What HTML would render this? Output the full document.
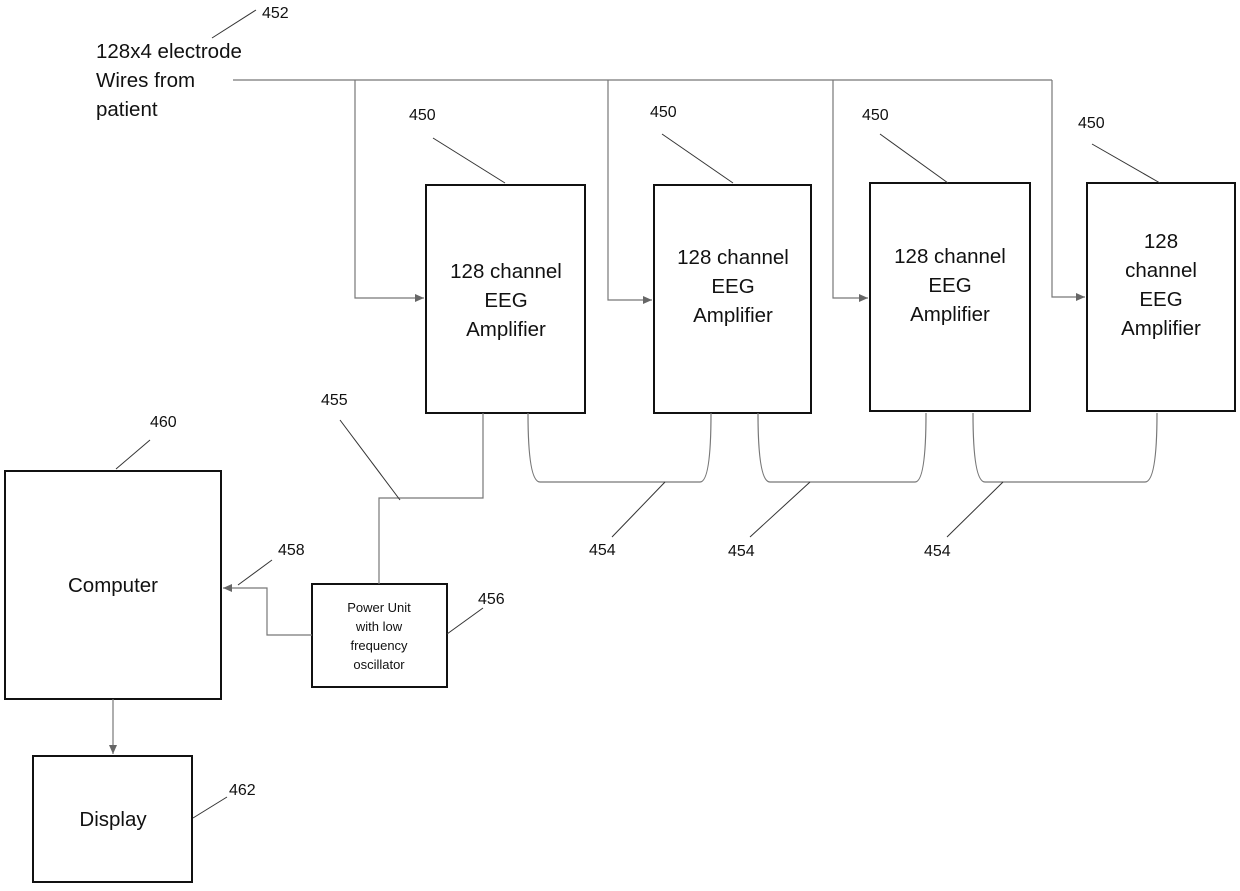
<!DOCTYPE html>
<html><head><style>
body{margin:0;background:#fff;}
svg text{font-family:"Liberation Sans",sans-serif;fill:#111;}
</style></head><body>
<svg width="1240" height="886" viewBox="0 0 1240 886" xmlns="http://www.w3.org/2000/svg">
<defs><marker id="a" markerWidth="10" markerHeight="10" refX="9" refY="5" orient="auto" markerUnits="userSpaceOnUse"><path d="M0,1 L9,5 L0,9 Z" fill="#666"/></marker></defs>
<g fill="none" stroke="#111" stroke-width="2">
<rect x="426" y="185" width="159" height="228"/>
<rect x="654" y="185" width="157" height="228"/>
<rect x="870" y="183" width="160" height="228"/>
<rect x="1087" y="183" width="148" height="228"/>
<rect x="5" y="471" width="216" height="228"/>
<rect x="33" y="756" width="159" height="126"/>
<rect x="312" y="584" width="135" height="103"/>
</g>
<g fill="none" stroke="#777" stroke-width="1.2">
<path d="M233,80 H1052"/>
<path d="M355,80 V298 H424" marker-end="url(#a)"/>
<path d="M608,80 V300 H652" marker-end="url(#a)"/>
<path d="M833,80 V298 H868" marker-end="url(#a)"/>
<path d="M1052,80 V297 H1085" marker-end="url(#a)"/>
<path d="M483,413 V498 H379 V584"/>
<path d="M312,635 H267 V588 H223" marker-end="url(#a)"/>
<path d="M113,699 V754" marker-end="url(#a)"/>
<path d="M528,413 Q528,482 540,482 H700 Q711,482 711,413"/>
<path d="M758,413 Q758,482 770,482 H915 Q926,482 926,413"/>
<path d="M973,413 Q973,482 985,482 H1145 Q1157,482 1157,413"/>
</g>
<g fill="none" stroke="#333" stroke-width="1">
<path d="M212,38 L256,10"/>
<path d="M433,138 L505,183"/>
<path d="M662,134 L733,183"/>
<path d="M880,134 L948,183"/>
<path d="M1092,144 L1160,183"/>
<path d="M340,420 L400,500"/>
<path d="M612,537 L665,482"/>
<path d="M750,537 L810,482"/>
<path d="M947,537 L1003,482"/>
<path d="M447,634 L483,608"/>
<path d="M238,585 L272,560"/>
<path d="M116,469 L150,440"/>
<path d="M193,818 L227,797"/>
</g>
<g font-size="16">
<text x="262" y="18">452</text>
<text x="409" y="120">450</text>
<text x="650" y="117">450</text>
<text x="862" y="120">450</text>
<text x="1078" y="128">450</text>
<text x="321" y="405">455</text>
<text x="589" y="555">454</text>
<text x="728" y="556">454</text>
<text x="924" y="556">454</text>
<text x="278" y="555">458</text>
<text x="478" y="604">456</text>
<text x="150" y="427">460</text>
<text x="229" y="795">462</text>
</g>
<g font-size="20.5" text-anchor="start">
<text x="96" y="58">128x4 electrode</text>
<text x="96" y="87">Wires from</text>
<text x="96" y="116">patient</text>
</g>
<g font-size="20.5" text-anchor="middle">
<text x="506" y="278">128 channel</text><text x="506" y="307">EEG</text><text x="506" y="336">Amplifier</text>
<text x="733" y="264">128 channel</text><text x="733" y="293">EEG</text><text x="733" y="322">Amplifier</text>
<text x="950" y="263">128 channel</text><text x="950" y="292">EEG</text><text x="950" y="321">Amplifier</text>
<text x="1161" y="248">128</text><text x="1161" y="277">channel</text><text x="1161" y="306">EEG</text><text x="1161" y="335">Amplifier</text>
<text x="113" y="592">Computer</text>
<text x="113" y="826">Display</text>
</g>
<g font-size="13" text-anchor="middle">
<text x="379" y="612">Power Unit</text><text x="379" y="631">with low</text><text x="379" y="650">frequency</text><text x="379" y="669">oscillator</text>
</g>
</svg>
</body></html>
